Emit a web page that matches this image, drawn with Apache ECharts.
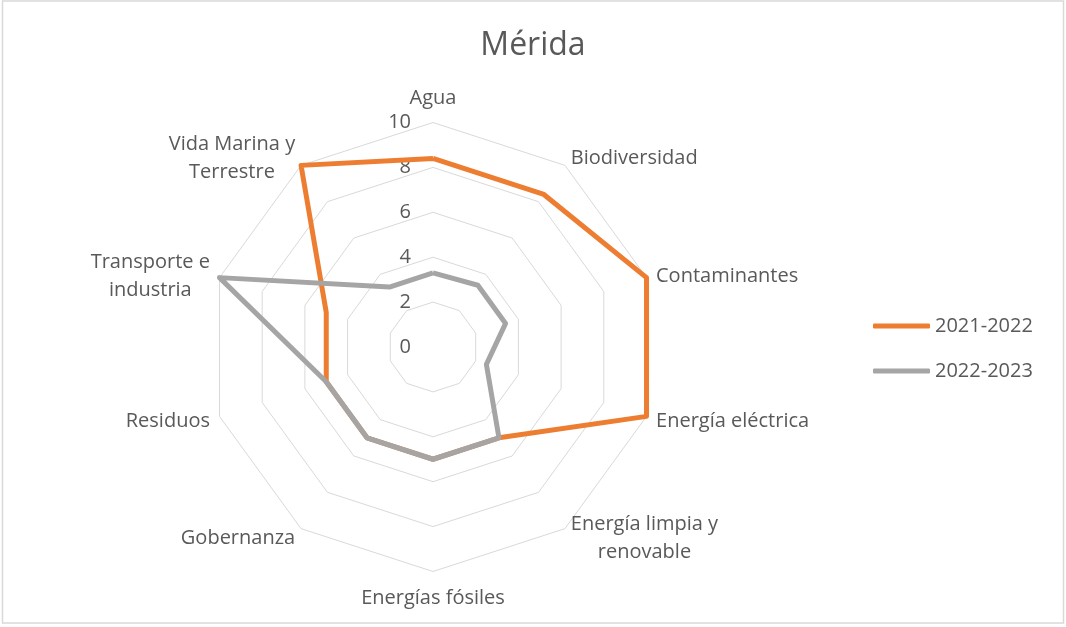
<!DOCTYPE html>
<html>
<head>
<meta charset="utf-8">
<script src="https://cdn.jsdelivr.net/npm/echarts@6/dist/echarts.min.js"></script>
<style>
html, body { margin: 0; padding: 0; background: #fff; }
#main { width: 1066px; height: 627px; }
</style>
</head>
<body>
<div id="main"></div>
<script>
var categories = ['Agua', 'Biodiversidad', 'Contaminantes', 'Energía eléctrica', 'Energía limpia y\nrenovable',
    'Energías fósiles', 'Gobernanza', 'Residuos', 'Transporte e\nindustria', 'Vida Marina y\nTerrestre'];
var values2122 = [8.4, 8.4, 10, 10, 5, 5, 5, 5, 5, 10];
var values2223 = [3.3, 3.4, 3.4, 2.5, 5, 5, 5, 5, 10, 3.3];
var seriesNames = ['2021-2022', '2022-2023'];
var axisMax = 10;

var textColor = '#595959';
var font = '"Open Sans"';

// echarts puts indicators counter-clockwise, the excel chart goes clockwise
function clockwise(arr) {
    return [arr[0]].concat(arr.slice(1).reverse());
}

var indicators = clockwise(categories).map(function (name, i) {
    var ind = { name: name, max: axisMax, min: 0 };
    if (i === 0) {
        ind.axisLabel = { show: true };
    }
    return ind;
});

var myChart = echarts.init(document.getElementById('main'));

var option = {
    backgroundColor: '#fff',
    title: {
        text: 'Mérida',
        left: 'center',
        top: 25,
        textStyle: { color: textColor, fontSize: 32, fontWeight: 'normal', fontFamily: font }
    },
    legend: {
        orient: 'vertical',
        left: 868,
        top: 311,
        itemWidth: 57,
        itemHeight: 5,
        itemGap: 25,
        icon: 'roundRect',
        textStyle: { color: textColor, fontSize: 20, fontFamily: font },
        data: seriesNames
    },
    graphic: [{
        type: 'rect',
        silent: true,
        shape: { x: 2.5, y: 1, width: 1061, height: 622 },
        style: { fill: 'none', stroke: '#d9d9d9', lineWidth: 1.5 }
    }],
    radar: {
        center: [433, 347],
        radius: 224.5,
        startAngle: 90,
        splitNumber: 5,
        shape: 'polygon',
        indicator: indicators,
        axisName: {
            color: textColor,
            fontSize: 20,
            fontFamily: font,
            padding: [3, 0, 0, 0],
            formatter: function (name) {
                return name.split('\n').map(function (l) { return '{c|' + l + '}'; }).join('\n');
            },
            rich: {
                c: { align: 'center', color: textColor, fontSize: 20, fontFamily: font, lineHeight: 28 }
            }
        },
        nameGap: 10,
        axisLine: { show: false },
        axisTick: { show: false },
        axisLabel: { show: false, color: textColor, fontSize: 20, fontFamily: font, margin: 22, padding: [3, 0, 0, 0] },
        splitLine: { lineStyle: { color: '#d9d9d9', width: 1 } },
        splitArea: { show: false }
    },
    series: [
        {
            name: seriesNames[0],
            type: 'radar',
            symbol: 'none',
            itemStyle: { color: '#ED7D31' },
            lineStyle: { color: '#ED7D31', width: 5, join: 'round' },
            data: [{ value: clockwise(values2122), name: seriesNames[0] }]
        },
        {
            name: seriesNames[1],
            type: 'radar',
            symbol: 'none',
            itemStyle: { color: '#A5A5A5' },
            lineStyle: { color: '#A5A5A5', width: 5, join: 'round' },
            data: [{ value: clockwise(values2223), name: seriesNames[1] }]
        }
    ]
};

myChart.setOption(option);
</script>
</body>
</html>
